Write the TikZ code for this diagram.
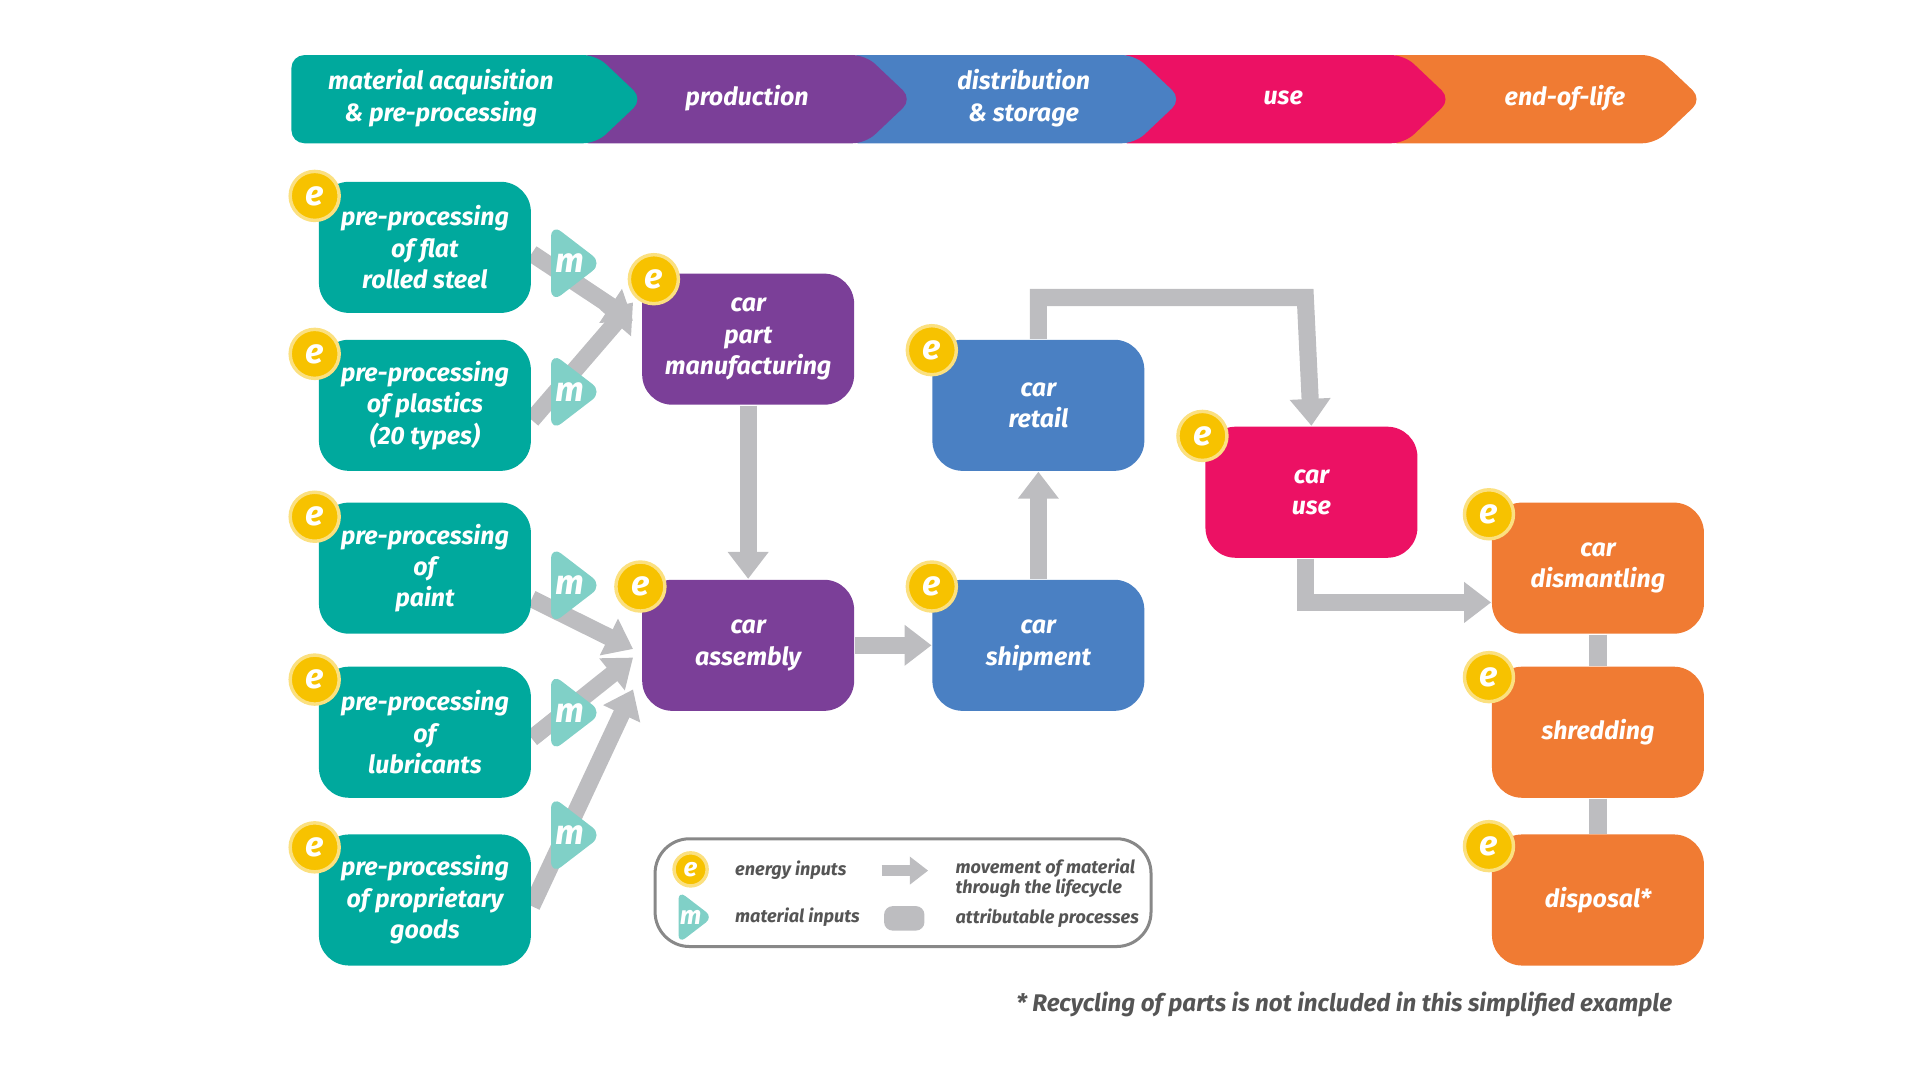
\documentclass[tikz,border=0pt]{standalone}
\usepackage{fontspec}
\setmainfont{Fira Sans}
\usetikzlibrary{shapes.geometric,arrows.meta,positioning,backgrounds}
\definecolor{cteal}{HTML}{00A99D}
\definecolor{cpurple}{HTML}{7B3F98}
\definecolor{cblue}{HTML}{4A80C3}
\definecolor{cpink}{HTML}{EC1164}
\definecolor{corange}{HTML}{F07B33}
\definecolor{cgray}{HTML}{BDBDC0}
\definecolor{eyellow}{HTML}{F7C200}
\definecolor{mteal}{HTML}{80D0C7}
\definecolor{ltext}{HTML}{555555}
\begin{document}
\begin{tikzpicture}[x=0.01cm,y=-0.01cm,
        proc/.style={rectangle, rounded corners=7pt, fill=#1, text=white, minimum width=1.73cm, minimum height=1.07cm, align=center, font=\fontsize{5.8}{7.3}\selectfont\bfseries\itshape},
        energy/.style={circle, fill=eyellow, draw=eyellow!50, line width=0.8pt, text=white, inner sep=0pt, minimum size=0.4cm, font=\fontsize{8}{8}\selectfont\bfseries\itshape},
        material/.style={isosceles triangle, isosceles triangle apex angle=75, fill=mteal, rounded corners=3pt, minimum height=0.42cm, inner sep=0pt, text=white, font=\fontsize{8}{8}\selectfont\bfseries\itshape},
        flow/.style={cgray, line width=0.14cm, -{Triangle[width=0.32cm,length=0.22cm]}},
        link/.style={cgray, line width=0.14cm},
        legend/.style={text=ltext, align=left, anchor=west, font=\fontsize{4.2}{4.2}\selectfont\bfseries\itshape}
    ]
        \useasboundingbox (0,0) rectangle (1568,882);

        % Lebenszyklus-Phasen
        \foreach \xl/\xr/\col/\xt/\txt in {1130/1390/corange/1278/end-of-life, 910/1185/cpink/1048/use, 690/965/cblue/836/distribution\\\& storage, 470/745/cpurple/610/production, 238/525/cteal/360/material acquisition\\\& pre-processing}{
            \fill[\col, rounded corners=3pt] (\xl,45) -- (\xr-38,45) -- (\xr,81) -- (\xr-38,117) -- (\xl,117) -- cycle;
            \node[text=white, align=center, font=\fontsize{5.8}{7.3}\selectfont\bfseries\itshape] at (\xt,80) {\txt};
        }

        % Vorverarbeitung
        \node[proc=cteal] (flat) at (347,202) {pre-processing\\of flat\\rolled steel};
        \node[proc=cteal] (plastic) at (347,331) {pre-processing\\of plastics\\(20 types)};
        \node[proc=cteal] (paint) at (347,464) {pre-processing\\of\\paint};
        \node[proc=cteal] (lube) at (347,598) {pre-processing\\of\\lubricants};
        \node[proc=cteal] (goods) at (347,735) {pre-processing\\of proprietary\\goods};

        % Produktion und Vertrieb
        \node[proc=cpurple] (part) at (611,277) {car\\part\\manufacturing};
        \node[proc=cpurple] (assembly) at (611,527) {car\\assembly};
        \node[proc=cblue] (retail) at (848,331) {car\\retail};
        \node[proc=cblue] (shipment) at (848,527) {car\\shipment};
        \node[proc=cpink] (use) at (1071,402) {car\\use};
        \node[proc=corange] (dismantle) at (1305,464) {car\\dismantling};
        \node[proc=corange] (shred) at (1305,598) {shredding};
        \node[proc=corange] (disposal) at (1305,735) {disposal*};

        % Verbindungen
        \coordinate (partin) at (517,262);
        \coordinate (assyin) at (517,525);
        \coordinate (corner1) at (848,243);
        \coordinate (corner2) at (1066,243);
        \coordinate (corner3) at (1066,492);
        \begin{scope}[on background layer]
            \draw[flow] ([yshift=-0.05cm]flat.east) -- (partin);
            \draw[flow] ([yshift=-0.12cm]plastic.east) -- ([yshift=0.15cm]partin);
            \draw[flow] ([yshift=-0.25cm]paint.east) -- ([yshift=-0.05cm]assyin);
            \draw[flow] ([yshift=-0.05cm]lube.east) -- ([yshift=-0.12cm]assyin);
            \draw[flow] ([yshift=-0.05cm]goods.east) -- ([yshift=-0.38cm]assyin);
            \draw[link] (dismantle) -- (shred);
            \draw[link] (shred) -- (disposal);
        \end{scope}
        \draw[flow] (part) -- (assembly);
        \draw[flow] (assembly) -- (shipment);
        \draw[flow] (shipment) -- (retail);
        \draw[flow] (retail.north) -- (corner1) -- (corner2) -- (use.north);
        \draw[flow] (use.south -| corner3) -- (corner3) -- (dismantle.west |- corner3);

        % Energie- und Materialeingaenge
        \node[energy] (e1) at (257,160) {e};
        \node[energy] (e2) at (257,289) {e};
        \node[energy] (e3) at (257,422) {e};
        \node[energy] (e4) at (257,555) {e};
        \node[energy] (e5) at (257,692) {e};
        \node[energy] (e6) at (534,228) {e};
        \node[energy] (e7) at (523,479) {e};
        \node[energy] (e8) at (761,286) {e};
        \node[energy] (e9) at (761,479) {e};
        \node[energy] (e10) at (982,356) {e};
        \node[energy] (e11) at (1216,420) {e};
        \node[energy] (e12) at (1216,553) {e};
        \node[energy] (e13) at (1216,691) {e};
        \node[material] (m1) at (465,215) {m\hspace{1pt}};
        \node[material] (m2) at (465,320) {m\hspace{1pt}};
        \node[material] (m3) at (465,478) {m\hspace{1pt}};
        \node[material] (m4) at (465,582) {m\hspace{1pt}};
        \node[material] (m5) at (465,682) {m\hspace{1pt}};

        % Legende
        \draw[ltext!70, line width=0.7pt, rounded corners=8pt] (535,685) rectangle (940,773);
        \node[energy, minimum size=0.27cm, font=\fontsize{6}{6}\selectfont\bfseries\itshape] (le) at (564,710) {e};
        \node[legend] at (588,711) {energy inputs};
        \node[material, minimum height=0.28cm, rounded corners=2pt, font=\fontsize{6}{6}\selectfont\bfseries\itshape] (lm) at (564,749) {m};
        \node[legend] at (588,749) {material inputs};
        \coordinate (la) at (720,711);
        \coordinate (lb) at (758,711);
        \draw[cgray, line width=0.09cm, -{Triangle[width=0.22cm,length=0.15cm]}] (la) -- (lb);
        \node[legend, font=\fontsize{4.2}{4.6}\selectfont\bfseries\itshape] at (768,717) {movement of material\\through the lifecycle};
        \fill[cgray, rounded corners=2pt] (722,740) rectangle (755,760);
        \node[legend] at (768,750) {attributable processes};

        \node[anchor=east, text=ltext, font=\fontsize{5.6}{6}\selectfont\bfseries\itshape] (note) at (1378,820) {* Recycling of parts is not included in this simplified example};
    \end{tikzpicture}
\end{document}
